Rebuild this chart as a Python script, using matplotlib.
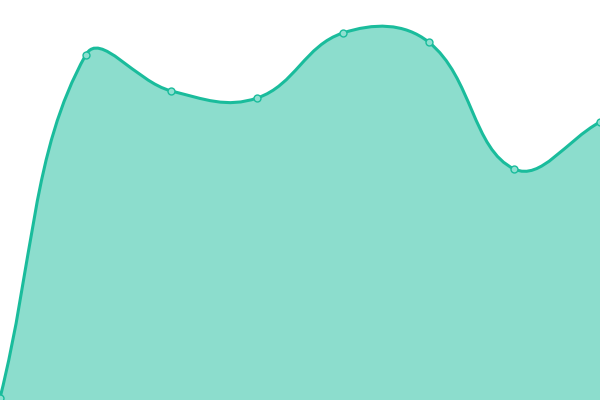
import numpy as np
import matplotlib
matplotlib.use("Agg")
import matplotlib.pyplot as plt
from matplotlib.path import Path
from matplotlib.patches import PathPatch

# Data
labels = ["1", "2", "3", "4", "5", "6", "7", "8"]
values = [0.5, 86.25, 77.25, 75.5, 91.75, 89.5, 57.75, 69.5]

line_color = "#1abc9c"
fill_color = (26 / 255, 188 / 255, 156 / 255, 0.5)
tension = 0.4

fig = plt.figure(figsize=(6, 4), dpi=100)
ax = fig.add_axes([0, 0, 1, 1])
ax.set_xlim(0, len(values) - 1)
ax.set_ylim(0, 100)
ax.axis("off")

x = np.arange(len(values), dtype=float)
y = np.array(values, dtype=float)

# spline in pixel space (cardinal bezier like chart libraries do)
pts = ax.transData.transform(np.column_stack([x, y]))
n = len(pts)
c_prev = np.zeros_like(pts)
c_next = np.zeros_like(pts)
for i in range(n):
    p0 = pts[max(i - 1, 0)]
    p1 = pts[i]
    p2 = pts[min(i + 1, n - 1)]
    d01 = np.hypot(*(p1 - p0))
    d12 = np.hypot(*(p2 - p1))
    tot = d01 + d12
    s01 = d01 / tot if tot else 0
    s12 = d12 / tot if tot else 0
    c_prev[i] = p1 - tension * s01 * (p2 - p0)
    c_next[i] = p1 + tension * s12 * (p2 - p0)

verts = [pts[0]]
codes = [Path.MOVETO]
for i in range(n - 1):
    verts += [c_next[i], c_prev[i + 1], pts[i + 1]]
    codes += [Path.CURVE4] * 3

inv = ax.transData.inverted()
line_verts = inv.transform(np.array(verts))

fill_verts = list(line_verts) + [(x[-1], 0), (x[0], 0), line_verts[0]]
fill_codes = codes + [Path.LINETO, Path.LINETO, Path.CLOSEPOLY]
ax.add_patch(PathPatch(Path(fill_verts, fill_codes), facecolor=fill_color,
                       edgecolor="none", zorder=1))
ax.add_patch(PathPatch(Path(line_verts, codes), facecolor="none",
                       edgecolor=line_color, linewidth=2.2, zorder=2,
                       clip_on=False))

ax.plot(x, y, linestyle="none", marker="o", markersize=5,
        markerfacecolor="#8ee0d0", markeredgecolor=line_color,
        markeredgewidth=1, zorder=3, clip_on=False)

fig.savefig("out.png", dpi=100)
